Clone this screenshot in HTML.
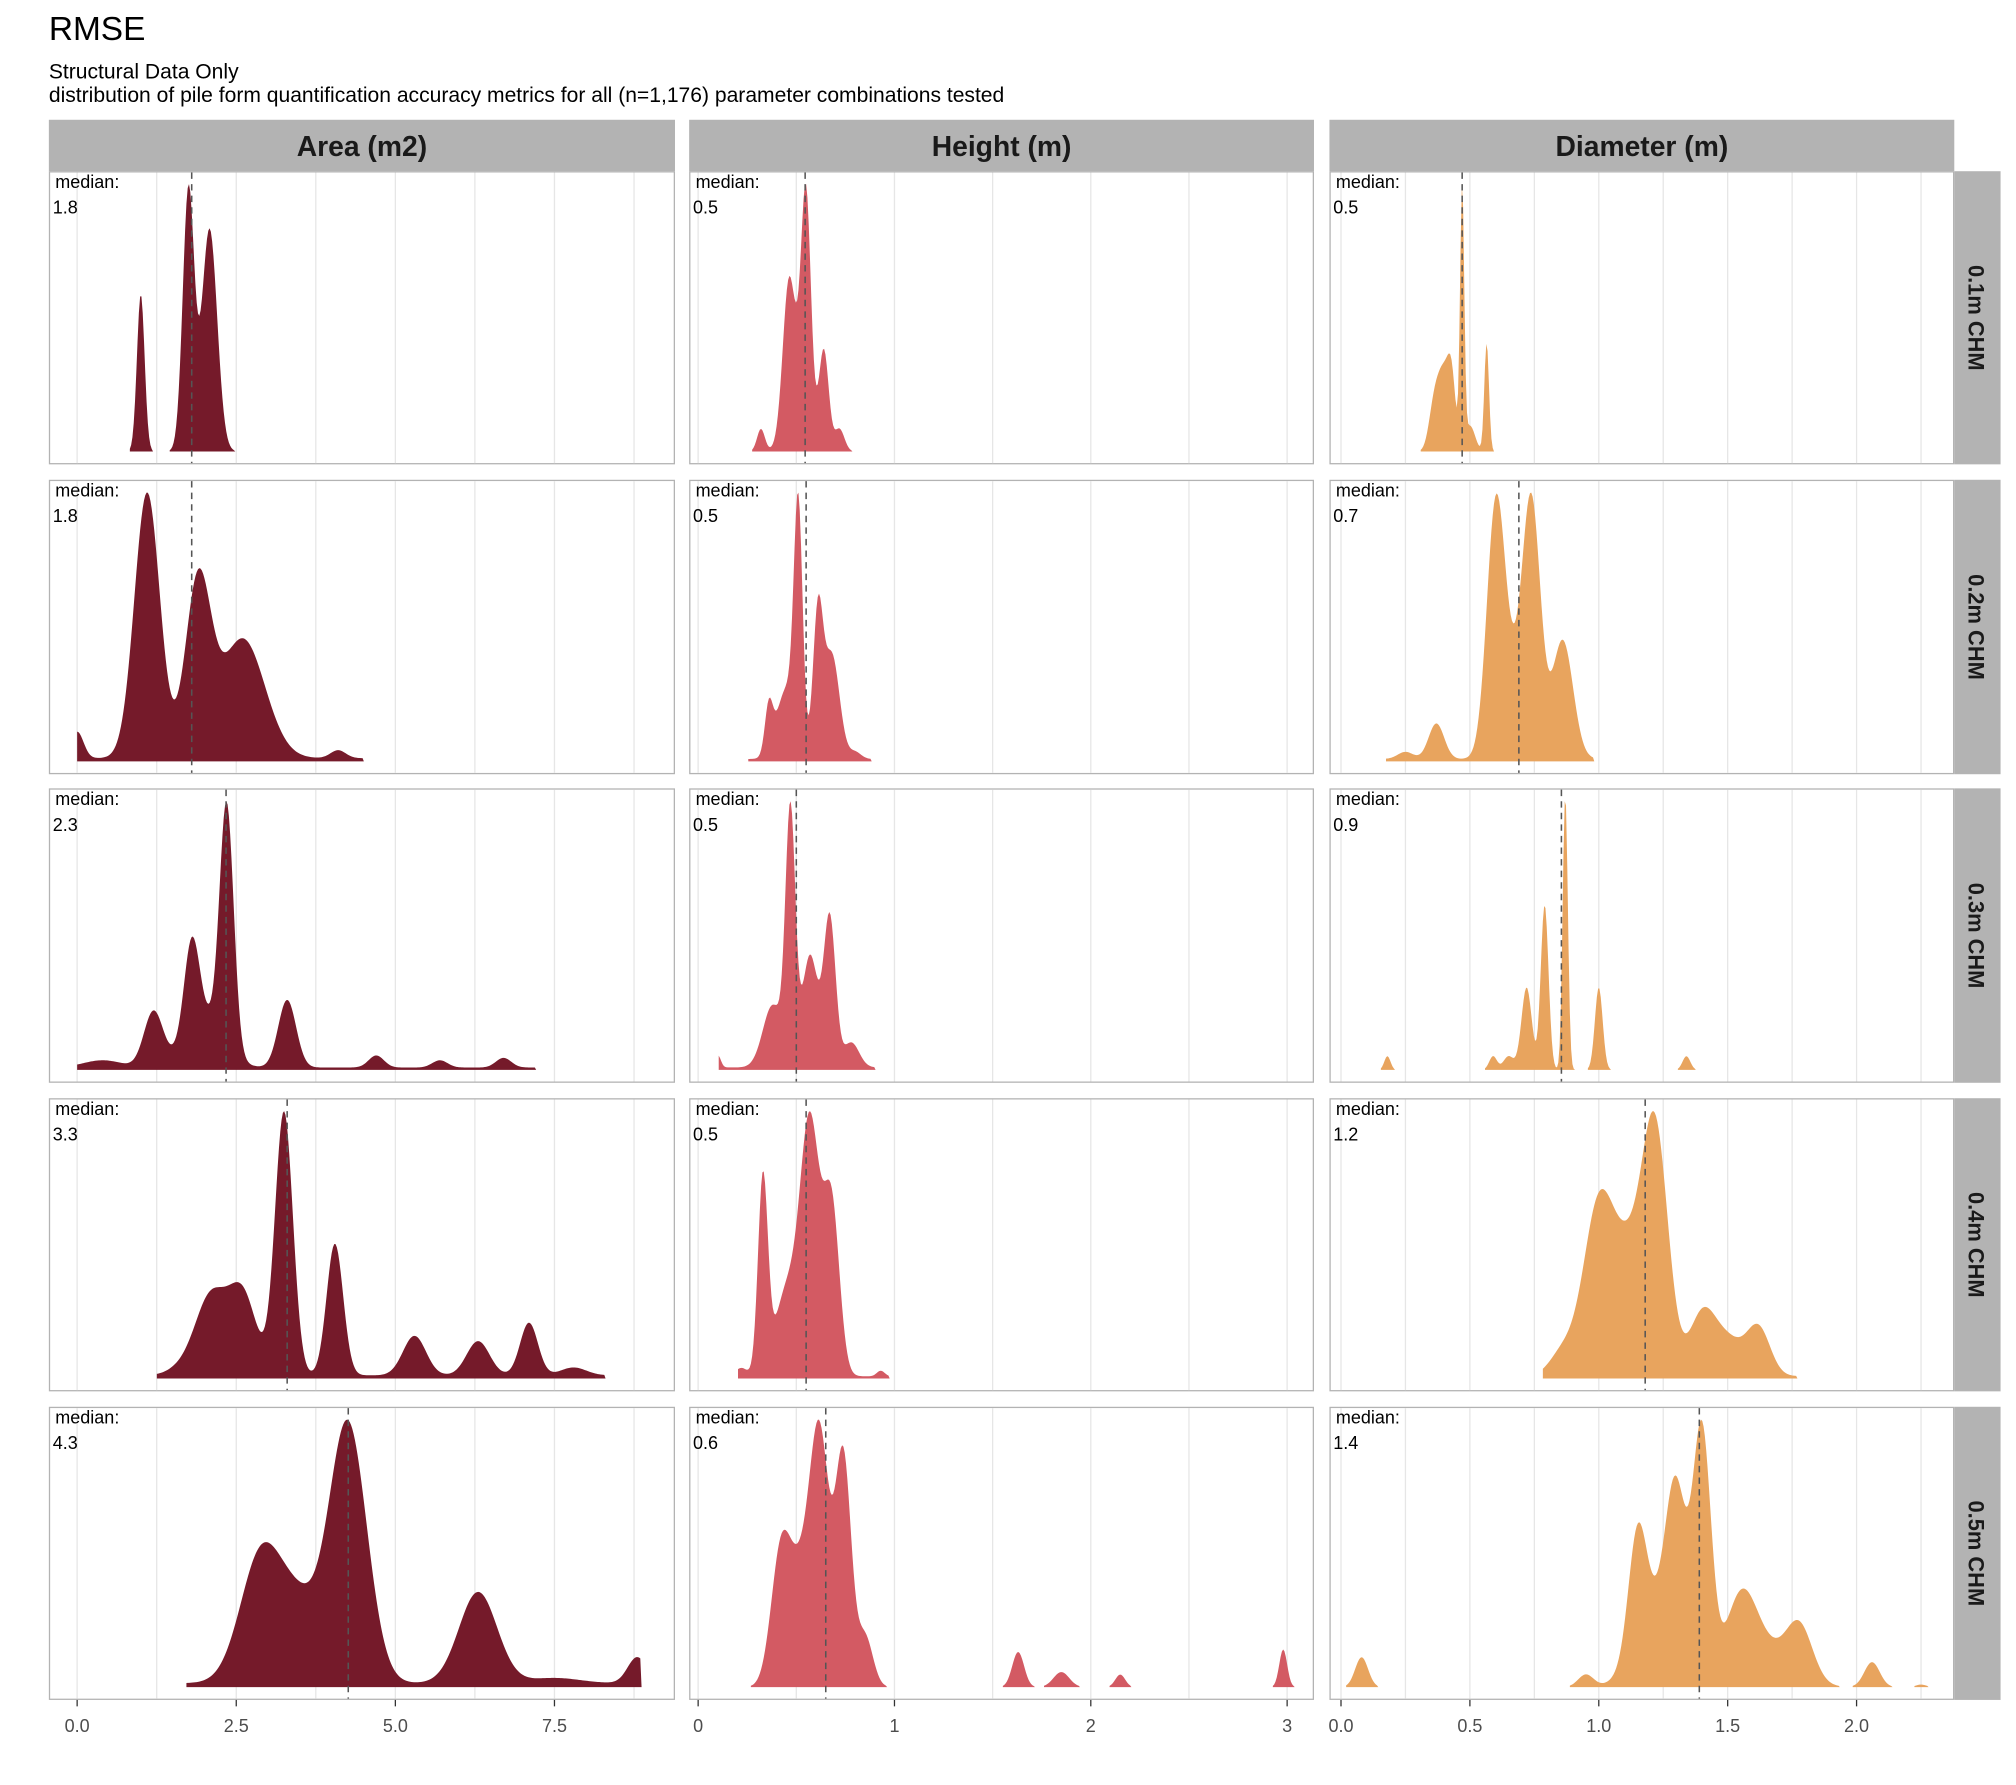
<!DOCTYPE html>
<html><head><meta charset="utf-8">
<style>
html,body{margin:0;padding:0;background:#fff;}
svg{display:block;font-family:"Liberation Sans",Arial,sans-serif;}
</style></head>
<body>
<svg id="s" width="2016" height="1785" viewBox="0 0 1568 1388" xmlns="http://www.w3.org/2000/svg">
<rect width="1568" height="1388" fill="#fff"/>
<text x="38" y="31" font-size="26" fill="#000">RMSE</text>
<text x="38" y="61" font-size="16.4" fill="#000">Structural Data Only</text>
<text x="38" y="79" font-size="16.4" fill="#000">distribution of pile form quantification accuracy metrics for all (n=1,176) parameter combinations tested</text>
<g id="g"></g>
</svg>
<script>
const NS="http://www.w3.org/2000/svg";
const g=document.getElementById("g");
function el(t,a,txt){const e=document.createElementNS(NS,t);for(const k in a)e.setAttribute(k,a[k]);if(txt!==undefined)e.textContent=txt;g.appendChild(e);return e;}
const cols=[
 {x0:38,x1:525,zero:60,ppu:49.5,ticks:[0,2.5,5,7.5],lab:["0.0","2.5","5.0","7.5"],minor:[1.25,3.75,6.25,8.75],title:"Area (m2)",color:"#751a2a"},
 {x0:536,x1:1022,zero:543,ppu:152.7,ticks:[0,1,2,3],lab:["0","1","2","3"],minor:[0.5,1.5,2.5],title:"Height (m)",color:"#d35a63"},
 {x0:1034,x1:1520,zero:1043,ppu:200.5,ticks:[0,0.5,1,1.5,2],lab:["0.0","0.5","1.0","1.5","2.0"],minor:[0.25,0.75,1.25,1.75,2.25],title:"Diameter (m)",color:"#e8a45e"}
];
const rows=[[133,361,"0.1m CHM"],[373,602,"0.2m CHM"],[613,842,"0.3m CHM"],[854,1082,"0.4m CHM"],[1094,1322,"0.5m CHM"]];
const D=[
 [
  {m:[[1.0,0.6,0.06],[1.75,1.0,0.09],[2.08,0.85,0.12]],med:1.8,ml:"1.8"},
  {m:[[0.55,1.0,0.025],[0.46,0.55,0.03],[0.64,0.45,0.025],[0.72,0.1,0.025],[0.32,0.1,0.02],[0.5,0.3,0.05]],med:0.545,ml:"0.5"},
  {m:[[0.47,1.0,0.008],[0.565,0.42,0.009],[0.4,0.3,0.025],[0.36,0.15,0.02],[0.43,0.2,0.015],[0.5,0.1,0.02]],med:0.47,ml:"0.5"}
 ],
 [
  {m:[[0.0,0.1,0.1],[1.1,1.0,0.2],[1.9,0.65,0.2],[2.6,0.45,0.35],[4.1,0.03,0.12]],med:1.8,ml:"1.8",lo:0,hi:4.5,f:0.012},
  {m:[[0.51,1.0,0.022],[0.61,0.6,0.025],[0.68,0.45,0.04],[0.36,0.2,0.02],[0.45,0.3,0.05],[0.8,0.03,0.03]],med:0.55,ml:"0.5",lo:0.25,hi:0.88,f:0.01},
  {m:[[0.6,1.0,0.035],[0.74,1.0,0.035],[0.86,0.5,0.04],[0.37,0.15,0.03],[0.25,0.03,0.03],[0.67,0.3,0.05]],med:0.69,ml:"0.7",lo:0.17,hi:0.98,f:0.01}
 ],
 [
  {m:[[2.35,1.0,0.11],[1.8,0.38,0.12],[1.2,0.23,0.15],[3.3,0.28,0.14],[4.7,0.05,0.12],[5.7,0.03,0.12],[6.7,0.04,0.12],[0.4,0.03,0.3],[2.0,0.2,0.3]],med:2.34,ml:"2.3",lo:0,hi:7.2,f:0.01},
  {m:[[0.47,1.0,0.025],[0.67,0.6,0.03],[0.57,0.45,0.04],[0.38,0.25,0.05],[0.1,0.05,0.015],[0.78,0.1,0.04]],med:0.5,ml:"0.5",lo:0.1,hi:0.9,f:0.01},
  {m:[[0.87,1.0,0.01],[0.79,0.6,0.015],[0.72,0.3,0.02],[1.0,0.3,0.015],[0.59,0.05,0.015],[0.18,0.05,0.012],[1.34,0.05,0.015],[0.65,0.05,0.02]],med:0.855,ml:"0.9"}
 ],
 [
  {m:[[3.25,1.0,0.14],[4.05,0.5,0.13],[2.1,0.3,0.25],[2.6,0.3,0.22],[5.3,0.15,0.18],[6.3,0.13,0.18],[7.1,0.2,0.14],[7.8,0.03,0.2],[1.6,0.02,0.2]],med:3.3,ml:"3.3",lo:1.25,hi:8.3,f:0.012},
  {m:[[0.33,0.7,0.025],[0.57,0.9,0.05],[0.68,0.6,0.04],[0.45,0.3,0.06],[0.93,0.02,0.02],[0.22,0.03,0.03]],med:0.55,ml:"0.5",lo:0.2,hi:0.97,f:0.008},
  {m:[[1.0,0.72,0.06],[1.22,1.0,0.05],[1.12,0.45,0.06],[1.4,0.25,0.05],[1.62,0.2,0.045],[1.5,0.15,0.06],[0.86,0.1,0.05]],med:1.18,ml:"1.2",lo:0.78,hi:1.77,f:0.01}
 ],
 [
  {m:[[4.25,1.0,0.3],[2.9,0.5,0.33],[3.5,0.25,0.3],[6.3,0.35,0.3],[8.8,0.1,0.15],[7.5,0.02,0.4]],med:4.26,ml:"4.3",lo:1.7,hi:8.85,f:0.015},
  {m:[[0.62,0.95,0.05],[0.74,0.9,0.04],[0.42,0.5,0.05],[0.52,0.4,0.06],[0.85,0.2,0.04],[1.63,0.14,0.03],[1.85,0.06,0.04],[2.15,0.05,0.025],[2.98,0.15,0.02]],med:0.65,ml:"0.6"},
  {m:[[1.4,1.0,0.035],[1.3,0.65,0.04],[1.15,0.45,0.035],[1.55,0.3,0.06],[1.78,0.2,0.05],[2.06,0.1,0.03],[0.95,0.05,0.03],[0.08,0.12,0.025],[2.25,0.01,0.02],[1.22,0.3,0.08],[1.65,0.15,0.1]],med:1.39,ml:"1.4"}
 ]
];
cols.forEach(c=>{
 el("rect",{x:c.x0,y:93,width:c.x1-c.x0,height:40,fill:"#b3b3b3"});
 el("text",{x:(c.x0+c.x1)/2,y:121,"font-size":22,"font-weight":"bold","text-anchor":"middle",fill:"#1a1a1a"},c.title);
});
rows.forEach((r,ri)=>{
 el("rect",{x:1520,y:r[0],width:36,height:r[1]-r[0],fill:"#b3b3b3"});
 const cy=(r[0]+r[1])/2;
 el("text",{x:1531,y:cy,"font-size":17,"font-weight":"bold","text-anchor":"middle",fill:"#1a1a1a",transform:`rotate(90 1531 ${cy})`},r[2]);
 cols.forEach((c,ci)=>{
  el("rect",{x:c.x0+0.5,y:r[0]+0.5,width:c.x1-c.x0-1,height:r[1]-r[0]-1,fill:"#fff",stroke:"#b3b3b3","stroke-width":1});
  c.minor.concat(c.ticks).forEach(t=>{const x=c.zero+t*c.ppu;if(x<c.x1-1)el("line",{x1:x,x2:x,y1:r[0]+1,y2:r[1]-1,stroke:"#e6e6e6","stroke-width":1});});
  const d=D[ri][ci];const base=r[1]-10,top=r[0]+10,H=base-top;
  const pts=[];let mx=0;
  for(let x=c.x0+1;x<=c.x1-1;x+=1){const v=(x-c.zero)/c.ppu;let s=0;
   if(d.lo!==undefined&&(v<d.lo||v>d.hi)){s=0;}else{d.m.forEach(m=>{s+=m[1]*Math.exp(-0.5*((v-m[0])/m[2])**2);});if(d.f)s+=d.f;}
   pts.push([x,s]);if(s>mx)mx=s;}
  let path="";let open=false;
  pts.forEach(([x,s],i)=>{const n=s/mx;if(n>0.004){const y=base-n*H;if(!open){path+=`M${x},${base}L${x},${y}`;open=true;}else path+=`L${x},${y}`;}else if(open){path+=`L${x},${base}Z`;open=false;}});
  if(open)path+=`L${pts[pts.length-1][0]},${base}Z`;
  el("path",{d:path,fill:c.color});
  const mxp=c.zero+d.med*c.ppu;
  el("line",{x1:mxp,x2:mxp,y1:r[0]+1,y2:r[1]-1,stroke:"#555","stroke-width":1.2,"stroke-dasharray":"5,4"});
  el("text",{x:c.x0+5,y:r[0]+13,"font-size":14,fill:"#000"},"median:");
  el("text",{x:c.x0+3,y:r[0]+33,"font-size":14,fill:"#000"},d.ml);
 });
});
cols.forEach(c=>{c.ticks.forEach((t,i)=>{const x=c.zero+t*c.ppu;el("line",{x1:x,x2:x,y1:1322,y2:1327,stroke:"#333"});el("text",{x:x,y:1347,"font-size":14,"text-anchor":"middle",fill:"#4d4d4d"},c.lab[i]);});});
</script>
</body></html>
